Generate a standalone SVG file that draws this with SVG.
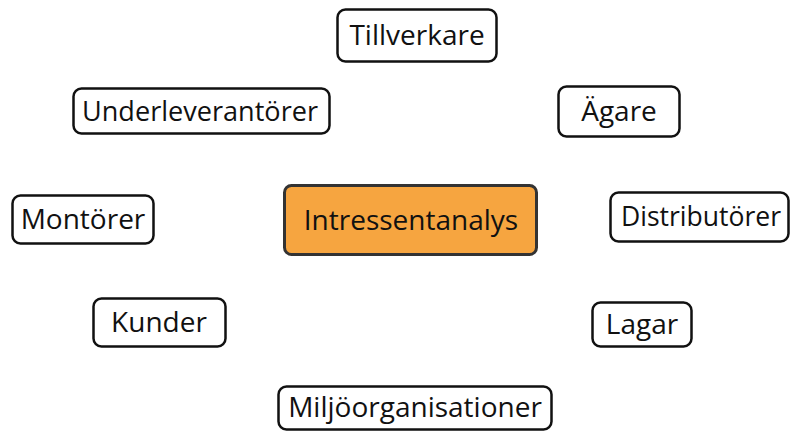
<svg xmlns="http://www.w3.org/2000/svg" width="792" height="432" viewBox="0 0 792 432">
<style>
.box{fill:#fff;stroke:#111;stroke-width:2.5}
.main{fill:#F6A540;stroke:#333;stroke-width:3}
text{font-family:"Open Sans","Noto Sans",sans-serif;font-size:28px;fill:#111;text-anchor:middle}
</style>
<rect width="792" height="432" fill="#fff"/>
<g id="connectors"/>
<g id="intressentanalys"><rect class="main" x="284.5" y="185.5" width="252" height="69" rx="7"/><text x="411" y="230">Intressentanalys</text></g>
<g id="tillverkare"><rect class="box" x="337.5" y="9.5" width="159" height="52" rx="8"/><text x="417" y="45">Tillverkare</text></g>
<g id="underleverantorer"><rect class="box" x="73.5" y="88.5" width="256" height="45" rx="8"/><text x="200" y="121" textLength="236" lengthAdjust="spacingAndGlyphs">Underleverantörer</text></g>
<g id="agare"><rect class="box" x="558.5" y="86.5" width="121" height="50" rx="8"/><text x="619" y="121">Ägare</text></g>
<g id="montorer"><rect class="box" x="12.5" y="195.5" width="141" height="48" rx="8"/><text x="83" y="229">Montörer</text></g>
<g id="distributorer"><rect class="box" x="610.5" y="192.5" width="178" height="49" rx="8"/><text x="701" y="226" textLength="160" lengthAdjust="spacingAndGlyphs">Distributörer</text></g>
<g id="kunder"><rect class="box" x="93.5" y="298.5" width="132" height="48" rx="8"/><text x="159" y="332">Kunder</text></g>
<g id="lagar"><rect class="box" x="592.5" y="302.5" width="99" height="44" rx="8"/><text x="642" y="334">Lagar</text></g>
<g id="miljoorganisationer"><rect class="box" x="278.5" y="386.5" width="273" height="43" rx="8"/><text x="415" y="417">Miljöorganisationer</text></g>
</svg>
